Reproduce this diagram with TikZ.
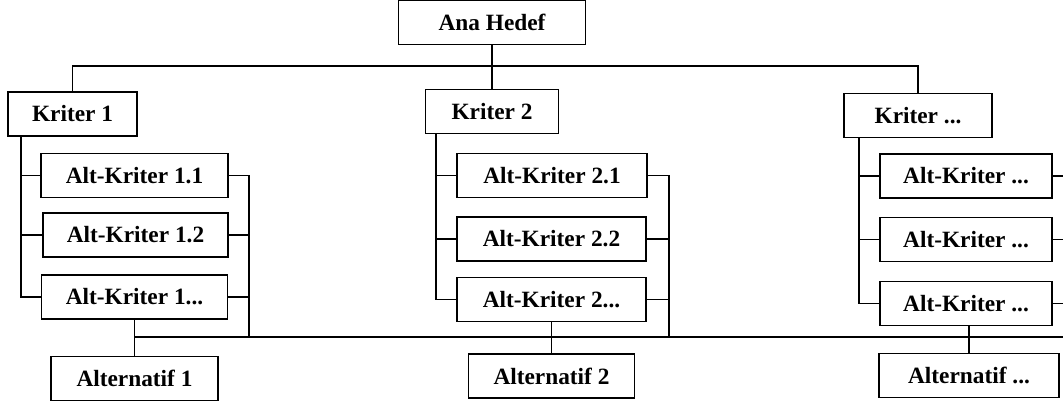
\documentclass[tikz,border=0pt]{standalone}
\usepackage{fontspec}
\setmainfont{Liberation Serif}
\usepackage{tikz}

\tikzset{
  box/.style = {draw, line width=1.3pt, minimum height=44*0.75pt, inner sep=0pt,
                font=\fontsize{17.5}{20}\selectfont\bfseries},
  wd/.style = {minimum width=#1*0.75pt},
  link/.style = {line width=1.3pt}
}

\begin{document}
\begin{tikzpicture}[x=0.75pt, y=-0.75pt]
                \useasboundingbox (0,0) rectangle (1063,410);

                % Goal
                \node[box, wd=187] (goal) at (492,22.5) {Ana Hedef};

                % Criteria
                \node[box, wd=129] (k1) at (72.5,114) {Kriter 1};
                \node[box, wd=133] (k2) at (492,111.5) {Kriter 2};
                \node[box, wd=148] (k3) at (918,115.5) {Kriter ...};

                % Sub-criteria, column 1
                \node[box, wd=187] (a11) at (134.5,175.5) {Alt-Kriter 1.1};
                \node[box, wd=185] (a12) at (135.5,235) {Alt-Kriter 1.2};
                \node[box, wd=186] (a13) at (134.5,297) {Alt-Kriter 1...};

                % Sub-criteria, column 2
                \node[box, wd=190] (a21) at (552,175.5) {Alt-Kriter 2.1};
                \node[box, wd=189] (a22) at (551.5,239) {Alt-Kriter 2.2};
                \node[box, wd=189] (a23) at (551.5,299.5) {Alt-Kriter 2...};

                % Sub-criteria, column 3
                \node[box, wd=172] (a31) at (966,176) {Alt-Kriter ...};
                \node[box, wd=172] (a32) at (966,239.5) {Alt-Kriter ...};
                \node[box, wd=172] (a33) at (966,303.5) {Alt-Kriter ...};

                % Alternatives
                \node[box, wd=167] (alt1) at (134.5,378.5) {Alternatif 1};
                \node[box, wd=166] (alt2) at (551.5,376) {Alternatif 2};
                \node[box, wd=180] (alt3) at (969,375.5) {Alternatif ...};

                % Bus lines and spines
                \coordinate (topbus) at (0,66);
                \coordinate (lowbus) at (0,337);
                \coordinate (edge) at (1063,0);
                \coordinate (s1) at (21,0);
                \coordinate (s2) at (436,0);
                \coordinate (s3) at (859,0);
                \coordinate (r1) at (249,0);
                \coordinate (r2) at (669,0);

                % Goal to criteria
                \draw[link] (goal.south) -- (k2.north);
                \draw[link] (k1.north) -- (k1.north |- topbus) -- (k3.north |- topbus) -- (k3.north);

                % Left spines
                \draw[link] (s1 |- k1.south) |- (a13.west);
                \draw[link] (s1 |- a11) -- (a11.west);
                \draw[link] (s1 |- a12) -- (a12.west);
                \draw[link] (s2 |- k2.south) |- (a23.west);
                \draw[link] (s2 |- a21) -- (a21.west);
                \draw[link] (s2 |- a22) -- (a22.west);
                \draw[link] (s3 |- k3.south) |- (a33.west);
                \draw[link] (s3 |- a31) -- (a31.west);
                \draw[link] (s3 |- a32) -- (a32.west);

                % Right spines
                \draw[link] (a11.east) -| (r1 |- lowbus);
                \draw[link] (a12.east) -- (r1 |- a12);
                \draw[link] (a13.east) -- (r1 |- a13);
                \draw[link] (a21.east) -| (r2 |- lowbus);
                \draw[link] (a22.east) -- (r2 |- a22);
                \draw[link] (a23.east) -- (r2 |- a23);
                \draw[link] (a31.east) -- (edge |- a31);
                \draw[link] (a32.east) -- (edge |- a32);
                \draw[link] (a33.east) -- (edge |- a33);

                % Sub-criteria to alternatives
                \draw[link] (a13.south |- lowbus) -- (edge |- lowbus);
                \draw[link] (a13.south) -- (alt1.north);
                \draw[link] (a23.south) -- (alt2.north);
                \draw[link] (alt3.north |- a33.south) -- (alt3.north);

            \end{tikzpicture}
\end{document}
